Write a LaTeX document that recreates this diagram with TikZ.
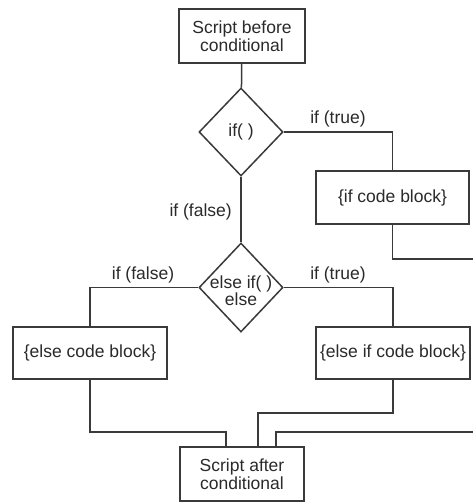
\documentclass[tikz,border=0pt]{standalone}
\usepackage{fontspec}
\setmainfont{Liberation Sans}
\usetikzlibrary{shapes.geometric}
\definecolor{ink}{HTML}{3A3A3A}
\definecolor{txt}{HTML}{2A2A2A}
\begin{document}
\begin{tikzpicture}[x=1pt,y=-1pt,
  every node/.style={text=txt, font=\fontsize{17.5}{18}\selectfont},
  block/.style={draw=ink, line width=1.5pt, rectangle, inner sep=0pt, align=center},
  test/.style={draw=ink, line width=1.5pt, diamond, inner sep=0pt,
    minimum width=84pt, minimum height=88pt},
  link/.style={draw=ink, line width=1.5pt},
  tag/.style={inner sep=0pt}]
\useasboundingbox (0,0) rectangle (473,503);
\fill[white] (0,0) rectangle (473,503);

% boxes
\node[block, minimum width=126pt, minimum height=54pt] (start) at (242,36) {Script before\\conditional};
\node[test] (ifq) at (241,132) {\makebox[0pt]{if( )}};
\node[block, minimum width=153pt, minimum height=53pt] (ifblk) at (392.5,197.5) {\{if code block\}};
\node[test, minimum height=89pt] (elifq) at (241,287.5)
  {\makebox[0pt]{\raisebox{-10pt}[0pt][0pt]{\fontsize{17.5}{16}\selectfont\begin{tabular}{@{}c@{}}else if( )\\else\end{tabular}}}};
\node[block, minimum width=154pt, minimum height=52pt] (elseblk) at (90,353) {\{else code block\}};
\node[block, minimum width=154pt, minimum height=52pt] (elifblk) at (393,353) {\{else if code block\}};
\node[block, minimum width=124pt, minimum height=54pt] (finish) at (242,474) {Script after\\conditional};

% junction points of the merging lines
\coordinate (j1) at (226,432);
\coordinate (j2) at (258,413);
\coordinate (j3) at (276,432);
\coordinate (r1) at (490,259);

% connectors
\draw[link] (start) -- (ifq);
\draw[link] (ifq.east) -| (ifblk.north);
\draw[link] (ifq.south) -- (elifq.north);
\draw[link] (elifq.west) -| (elseblk.north);
\draw[link] (elifq.east) -| (elifblk.north);
\draw[link] (elseblk.south) |- (j1) -- (j1 |- finish.north);
\draw[link] (elifblk.south) |- (j2) -- (j2 |- finish.north);
\draw[link] (ifblk.south) |- (r1) |- (j3) -- (j3 |- finish.north);

% branch labels
\node[tag] (t1) at (338,119) {if (true)};
\node[tag, anchor=east] (f1) at (232,212) {if (false)};
\node[tag] (f2) at (143,275) {if (false)};
\node[tag] (t2) at (338,275) {if (true)};
\end{tikzpicture}
\end{document}
